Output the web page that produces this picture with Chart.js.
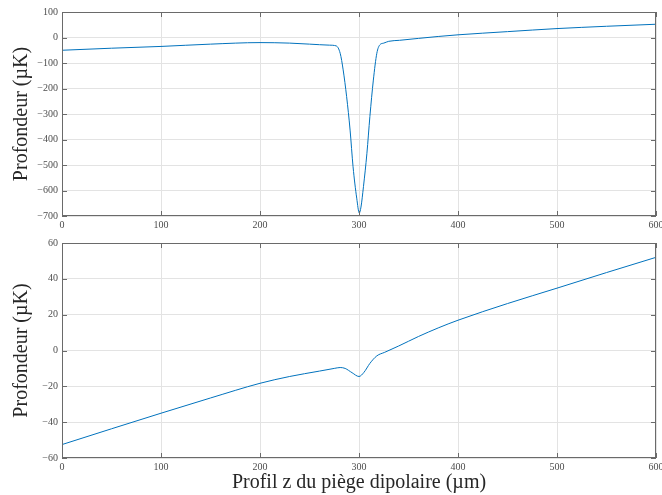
<!DOCTYPE html>
<html>
<head>
<meta charset="utf-8">
<script src="https://cdn.jsdelivr.net/npm/chart.js@4"></script>
<style>
  body { margin: 0; background: #fff; }
  canvas { position: absolute; left: 0; }
  #top { top: 0; }
  #bottom { top: 230px; }
</style>
</head>
<body>
<canvas id="top" width="662" height="235"></canvas>
<canvas id="bottom" width="662" height="265"></canvas>
<script>
// profil z, en µm
var zTop = [0, 50, 100, 150, 200, 230, 250, 270, 277, 281, 284, 287.5, 291, 294, 297.7, 300.3, 302, 304.5, 308, 311, 314.5, 318, 321, 325, 330, 341, 360, 380, 400, 425, 450, 500, 550, 600];
var depthTop = [-50, -42, -35, -26, -20, -22, -26, -30, -33, -62, -127, -232, -363, -507, -630, -688, -665, -585, -454, -310, -167, -62, -29, -22, -15, -11, -3.5, 4, 10.5, 17, 23, 35, 44, 52];

var zBottom = [0, 50, 100, 150, 200, 230, 260, 275, 281, 286, 293, 300, 305, 311, 318, 326, 340, 360, 380, 400, 450, 500, 550, 600];
var depthBottom = [-52.5, -43.7, -35, -26.5, -18.3, -14.5, -11.5, -10, -9.5, -10, -12.4, -14.5, -12.2, -7.2, -3, -1, 2.5, 7.8, 12.6, 16.9, 26.2, 34.8, 43.5, 52];

var xTicks = [0, 100, 200, 300, 400, 500, 600];
var yTicksTop = [-700, -600, -500, -400, -300, -200, -100, 0, 100];
var yTicksBottom = [-60, -40, -20, 0, 20, 40, 60];

var serif = "'Liberation Serif', 'Times New Roman', serif";
var axisColor = '#6a6a6a';

function pts(xs, ys) {
    return xs.map(function(x, i) { return { x: x, y: ys[i] }; });
}

function minus(v) {
    return String(v).replace('-', '\u2212');
}

// boite + graduations vers l'interieur, facon matlab
var boxPlugin = {
    id: 'box',
    afterDraw: function(chart) {
        var ctx = chart.ctx, a = chart.chartArea;
        var xs = chart.scales.x, ys = chart.scales.y;
        ctx.save();
        ctx.strokeStyle = axisColor;
        ctx.lineWidth = 1;
        ctx.beginPath();
        xs.ticks.forEach(function(t) {
            var px = Math.round(xs.getPixelForValue(t.value)) + 0.5;
            ctx.moveTo(px, a.bottom); ctx.lineTo(px, a.bottom - 5);
            ctx.moveTo(px, a.top); ctx.lineTo(px, a.top + 5);
        });
        ys.ticks.forEach(function(t) {
            var py = Math.round(ys.getPixelForValue(t.value)) + 0.5;
            ctx.moveTo(a.left, py); ctx.lineTo(a.left + 5, py);
            ctx.moveTo(a.right, py); ctx.lineTo(a.right - 5, py);
        });
        ctx.stroke();
        ctx.strokeRect(Math.round(a.left) + 0.5, Math.round(a.top) + 0.5,
            Math.round(a.right - a.left) - 1, Math.round(a.bottom - a.top) - 1);
        ctx.restore();
    }
};

function makeChart(id, data, yTicks, padTop, xHeight, xTitle) {
    return new Chart(document.getElementById(id), {
        type: 'line',
        data: {
            datasets: [{
                data: data,
                borderColor: '#0072bd',
                borderWidth: 1,
                pointRadius: 0,
                fill: false,
                cubicInterpolationMode: 'monotone'
            }]
        },
        options: {
            responsive: false,
            animation: false,
            layout: { padding: { top: padTop, right: 6, left: 0, bottom: 0 } },
            plugins: { legend: { display: false }, tooltip: { enabled: false } },
            scales: {
                x: {
                    type: 'linear',
                    min: 0, max: 600,
                    afterBuildTicks: function(s) { s.ticks = xTicks.map(function(v) { return { value: v }; }); },
                    afterFit: function(s) { s.height = xHeight; s.paddingLeft = 0; s.paddingRight = 0; },
                    grid: { color: '#e3e3e3', drawTicks: false },
                    border: { display: false },
                    ticks: { padding: 3, maxRotation: 0, color: '#4d4d4d', font: { family: serif, size: 10 } },
                    title: {
                        display: !!xTitle,
                        text: xTitle || '',
                        color: '#262626',
                        font: { family: serif, size: 20 },
                        padding: { top: 0, bottom: 0 }
                    }
                },
                y: {
                    min: yTicks[0], max: yTicks[yTicks.length - 1],
                    afterBuildTicks: function(s) { s.ticks = yTicks.map(function(v) { return { value: v }; }); },
                    afterFit: function(s) { s.width = 62; s.paddingTop = 0; s.paddingBottom = 0; },
                    grid: { color: '#e3e3e3', drawTicks: false },
                    border: { display: false },
                    ticks: {
                        padding: 4, color: '#4d4d4d', font: { family: serif, size: 10 },
                        callback: function(v) { return minus(v); }
                    },
                    title: {
                        display: true,
                        text: 'Profondeur (µK)',
                        color: '#262626',
                        font: { family: serif, size: 20 },
                        padding: { top: 10, bottom: 0 }
                    }
                }
            }
        },
        plugins: [boxPlugin]
    });
}

makeChart('top', pts(zTop, depthTop), yTicksTop, 12, 19, null);
makeChart('bottom', pts(zBottom, depthBottom), yTicksBottom, 13, 37, 'Profil z du piège dipolaire (µm)');
</script>
</body>
</html>
